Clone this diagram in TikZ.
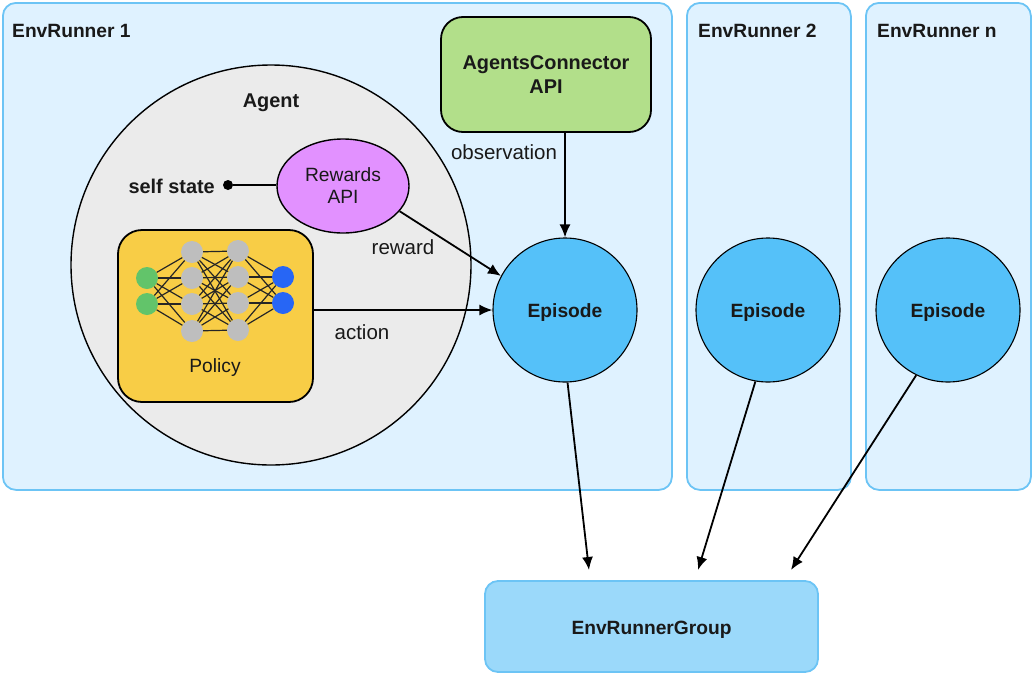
\documentclass[tikz,border=0pt]{standalone}
\usepackage{fontspec}
\setmainfont{Liberation Sans}
\usetikzlibrary{arrows.meta,shapes.geometric}
\definecolor{runnerfill}{HTML}{DFF2FF}
\definecolor{runnerline}{HTML}{6CC4F5}
\definecolor{agentfill}{HTML}{EBEBEB}
\definecolor{connfill}{HTML}{B2DF8A}
\definecolor{rewardfill}{HTML}{E291FF}
\definecolor{policyfill}{HTML}{F8CD46}
\definecolor{epfill}{HTML}{55C1F9}
\definecolor{groupfill}{HTML}{9BD9FA}
\definecolor{ingreen}{HTML}{62C46A}
\definecolor{hidgray}{HTML}{BEBEBE}
\definecolor{outblue}{HTML}{2766F5}
\tikzset{
  x=1pt,y=-1pt,
  txt/.style={font=\fontsize{20.5}{24}\selectfont,text=black!90,align=center,inner sep=0pt},
  ntxt/.style={txt,font=\fontsize{19.2}{22}\selectfont},
  btxt/.style={txt,font=\fontsize{19.2}{24}\selectfont\bfseries},
  bbtxt/.style={txt,font=\fontsize{19.9}{24}\selectfont\bfseries},
  runner/.style={draw=runnerline,fill=runnerfill,line width=1.8pt,rounded corners=13pt,anchor=north west,inner sep=0pt},
  episode/.style={circle,draw=black,fill=epfill,line width=1.1pt,minimum size=144pt,inner sep=0pt,btxt},
  flow/.style={draw=black,line width=1.8pt,-{Latex[length=13pt,width=11pt]}},
  net/.style={circle,minimum size=22pt,inner sep=0pt},
  netedge/.style={draw=black!85,line width=1.2pt},
}
\begin{document}
\begin{tikzpicture}
\useasboundingbox (0,0) rectangle (1033,675);
\node[runner,minimum width=669pt,minimum height=487pt] (r1) at (2,2) {};
\node[runner,minimum width=164pt,minimum height=487pt] (r2) at (686,2) {};
\node[runner,minimum width=165pt,minimum height=487pt] (r3) at (865,2) {};
\node[btxt,anchor=west] (r1t) at (12,31) {EnvRunner 1};
\node[btxt,anchor=west] (r2t) at (698,31) {EnvRunner 2};
\node[btxt,anchor=west] (r3t) at (877,31) {EnvRunner n};
\node[circle,draw=black,fill=agentfill,line width=1.4pt,minimum size=400pt,inner sep=0pt] (agent) at (271,265) {};
\node[bbtxt] (agentt) at (271,103) {Agent};
\node[draw=black,fill=connfill,line width=1.8pt,rounded corners=22pt,minimum width=210pt,minimum height=115pt,bbtxt,inner sep=0pt] (conn) at (546,74.5) {AgentsConnector\\API};
\node[ellipse,draw=black,fill=rewardfill,line width=1.4pt,minimum width=132pt,minimum height=94pt,ntxt] (rew) at (343,186) {Rewards\\API};
\node[bbtxt,anchor=east] (self) at (215,186) {self state};
\node[circle,fill=black,minimum size=10pt,inner sep=0pt] (dot) at (228,185) {};
\draw[line width=1.6pt] (dot) -- (dot -| rew.west);
\node[draw=black,fill=policyfill,line width=1.8pt,rounded corners=24pt,minimum width=195pt,minimum height=172pt,inner sep=0pt] (pol) at (215.5,316) {};
\node[ntxt] (polt) at (215,368) {Policy};
\foreach \n/\x/\y/\c in {i1/147/278/ingreen,i2/147/304/ingreen,
  a1/192/252/hidgray,a2/192/278/hidgray,a3/192/304/hidgray,a4/192/331/hidgray,
  b1/238/251/hidgray,b2/238/277/hidgray,b3/238/303/hidgray,b4/238/330/hidgray,
  o1/283/277/outblue,o2/283/303/outblue}
  \node[net,fill=\c] (\n) at (\x,\y) {};
\foreach \s in {i1,i2} \foreach \t in {a1,a2,a3,a4} \draw[netedge] (\s) -- (\t);
\foreach \s in {a1,a2,a3,a4} \foreach \t in {b1,b2,b3,b4} \draw[netedge] (\s) -- (\t);
\foreach \s in {b1,b2,b3,b4} \foreach \t in {o1,o2} \draw[netedge] (\s) -- (\t);
\node[episode] (e1) at (565,310) {\raisebox{-7pt}[0pt][0pt]{Episode}};
\node[episode] (e2) at (768,310) {\raisebox{-7pt}[0pt][0pt]{Episode}};
\node[episode] (e3) at (948,310) {\raisebox{-7pt}[0pt][0pt]{Episode}};
\node[draw=runnerline,fill=groupfill,line width=1.8pt,rounded corners=13pt,minimum width=333pt,minimum height=91pt,btxt,inner sep=0pt] (grp) at (651.5,626.5) {\raisebox{-7.5pt}[0pt][0pt]{EnvRunnerGroup}};
\coordinate (g1) at (589,570);
\coordinate (g2) at (698,570);
\coordinate (g3) at (791,570);
\draw[flow] (conn.south -| e1) -- (e1);
\draw[flow] (rew.-24) -- (e1.152);
\draw[flow] (pol.east |- e1) -- (e1);
\draw[flow] (e1.-88) -- (g1);
\draw[flow] (e2.-100) -- (g2);
\draw[flow] (e3.-116) -- (g3);
\node[txt] (obs) at (504,152) {observation};
\node[txt] (rewt) at (403,247) {reward};
\node[txt] (act) at (362,332) {action};
\end{tikzpicture}
\end{document}
